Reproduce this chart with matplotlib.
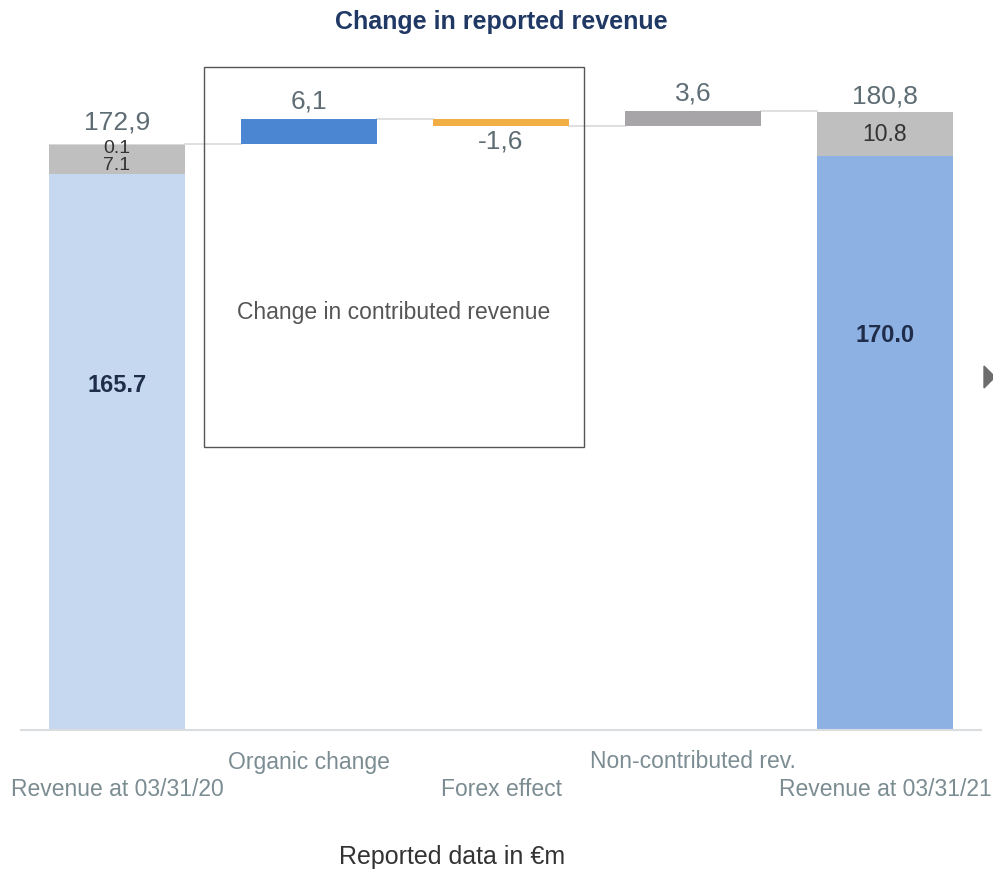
import matplotlib
matplotlib.use("Agg")
import matplotlib.pyplot as plt
from matplotlib.patches import Rectangle, Polygon

plt.rcParams['font.family'] = ['Liberation Sans', 'DejaVu Sans']

# ---- data ----
categories = ["Revenue at 03/31/20", "Organic change", "Forex effect",
              "Non-contributed rev.", "Revenue at 03/31/21"]
start_parts = [165.7, 7.1, 0.1]        # stacked start bar
start_total_label = "172,9"
changes = [6.1, -1.6, 3.6]             # organic, forex, non-contributed
change_labels = ["6,1", "-1,6", "3,6"]
end_parts = [170.0, 10.8]              # stacked end bar
end_total_label = "180,8"
start_part_labels = ["165.7", "7.1", "0.1"]
end_part_labels = ["170.0", "10.8"]

# ---- style ----
C_START = ["#c6d8ef", "#bfbfbf", "#d9d9d9"]
C_END = ["#8eb1e3", "#bfbfbf"]
C_CHG = ["#4a86d2", "#f0ae45", "#a7a5a7"]
LBL = "#5e6c74"
CAT = "#7b8c92"
W = 0.71

fig = plt.figure(figsize=(9.93, 8.69), dpi=100)
ax = fig.add_axes([21/993, 1-730/869, 960/993, 690/869])
ax.set_xlim(-0.5, 4.5)
ax.set_ylim(29, 198.5)

# start stacked bar
b = 0
for v, c in zip(start_parts, C_START):
    ax.bar(0, v, W, bottom=b, color=c, zorder=2)
    b += v
start_top = b
# end stacked bar
b = 0
for v, c in zip(end_parts, C_END):
    ax.bar(4, v, W, bottom=b, color=c, zorder=2)
    b += v
end_top = b

# floating change bars + connectors
level = start_top
prev_x = 0
for i, (d, c) in enumerate(zip(changes, C_CHG)):
    x = i + 1
    lo, hi = min(level, level + d), max(level, level + d)
    ax.bar(x, hi - lo, W, bottom=lo, color=c, zorder=2)
    ax.plot([prev_x + W/2, x - W/2], [level, level], color="#dcdcdc", lw=1.3, zorder=1)
    if d >= 0:
        ax.text(x, hi + 1.5, change_labels[i], ha="center", va="bottom", fontsize=19, color=LBL)
    else:
        ax.text(x, lo - 1.0, change_labels[i], ha="center", va="top", fontsize=19, color=LBL)
    level += d
    prev_x = x
ax.plot([3 + W/2, 4 - W/2], [level, level], color="#dcdcdc", lw=1.3, zorder=1)

# totals
ax.text(0, start_top + 2.4, start_total_label, ha="center", va="bottom", fontsize=19, color=LBL)
ax.text(4, end_top + 0.8, end_total_label, ha="center", va="bottom", fontsize=19, color=LBL)

# inner labels
ax.text(0, start_parts[0] - 52, start_part_labels[0], ha="center", va="center",
        fontsize=17, fontweight="bold", color="#1f2d4a")
ax.text(0, start_parts[0] + 2.0, start_part_labels[1], ha="center", va="center",
        fontsize=14, color="#333333")
ax.text(0, start_top - 1.0, start_part_labels[2], ha="center", va="center",
        fontsize=14, color="#333333")
ax.text(4, end_parts[0] - 44, end_part_labels[0], ha="center", va="center",
        fontsize=17, fontweight="bold", color="#1f2d4a")
ax.text(4, end_parts[0] + end_parts[1]/2, end_part_labels[1], ha="center", va="center",
        fontsize=16.5, color="#333333")

# box for contributed revenue
ax.add_patch(Rectangle((0.453, 98.5), 2.432 - 0.453, 191.9 - 98.5, fill=False,
                       edgecolor="#555555", lw=1.0, zorder=3, clip_on=False))
ax.text(1.443, 131.5, "Change in contributed revenue", ha="center", va="center",
        fontsize=16.5, color="#555555")

# axes styling
for s in ["top", "right", "left"]:
    ax.spines[s].set_visible(False)
ax.spines["bottom"].set_color("#d9dde0")
ax.spines["bottom"].set_linewidth(1.5)
ax.set_yticks([])
ax.set_xticks([])

# staggered category labels
for i, name in enumerate(categories):
    ypix = 762 if i % 2 == 1 else 789
    ax.text(i, -(ypix - 730) / 690, name, transform=ax.get_xaxis_transform(),
            ha="center", va="center", fontsize=16.5, color=CAT)

fig.text(452/993, 1-857/869, "Reported data in €m", ha="center", va="center",
         fontsize=18, color="#333333")
fig.text(501/993, 1-22/869, "Change in reported revenue", ha="center", va="center",
         fontsize=18, fontweight="bold", color="#1f3864")

# small navigation triangle at the right edge
fig.patches.append(Polygon([[984/993, 1-366/869], [984/993, 1-388/869], [995/993, 1-377/869]],
                           closed=True, transform=fig.transFigure, color="#6d6d6d"))

fig.savefig("out.png", dpi=100)
